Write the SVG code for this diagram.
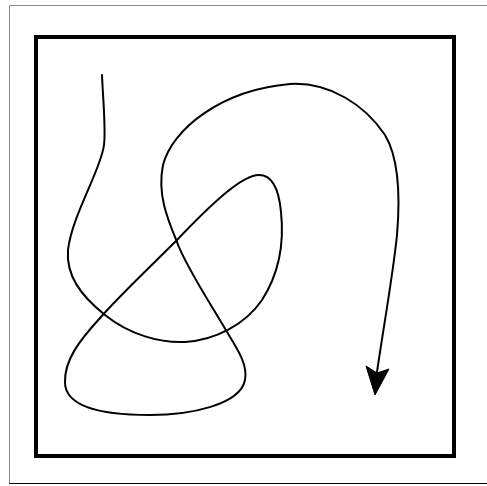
<svg xmlns="http://www.w3.org/2000/svg" width="487" height="486" viewBox="0 0 487 486">
<style>
.frame{fill:none;stroke:#000;stroke-width:4}
.curve{fill:none;stroke:#000;stroke-width:2;stroke-linecap:round;stroke-linejoin:round}
.head{fill:#000;stroke:#000;stroke-width:1;stroke-linejoin:miter}
</style>
<rect width="487" height="486" fill="#fff"/>
<g id="outer-border">
<line x1="9.5" y1="5.5" x2="487" y2="5.5" stroke="#888" stroke-width="1"/>
<line x1="9.5" y1="5.5" x2="9.5" y2="484" stroke="#888" stroke-width="1"/>
<line x1="9.5" y1="483.5" x2="487" y2="483.5" stroke="#000" stroke-width="1"/>
</g>
<g id="box">
<rect class="frame" x="36" y="37" width="418" height="419"/>
</g>
<g id="connectors">
<path class="curve" d="M102,75 C103,100 106,128 104,145 C101,170 72,215 68,250 C66,275 80,295 105,315 C130,335 160,343 185,342 C215,340 245,325 262,300 C280,272 284,240 281,212 C279,190 272,175 259,175 C243,175 215,200 177,240 C150,267 120,295 100,318 C80,340 64,360 65,383 C66,410 110,415 150,415 C190,415 240,405 245,380 C248,365 238,350 227,332 C210,303 185,265 177,242 C168,220 157,195 163,165 C172,130 220,90 290,84 C330,82 365,105 385,135 C400,160 400,200 397,235 C393,275 383,330 377,372"/>
<polygon class="head" points="375,395 366,366 377,373 389,369"/>
</g>
</svg>
